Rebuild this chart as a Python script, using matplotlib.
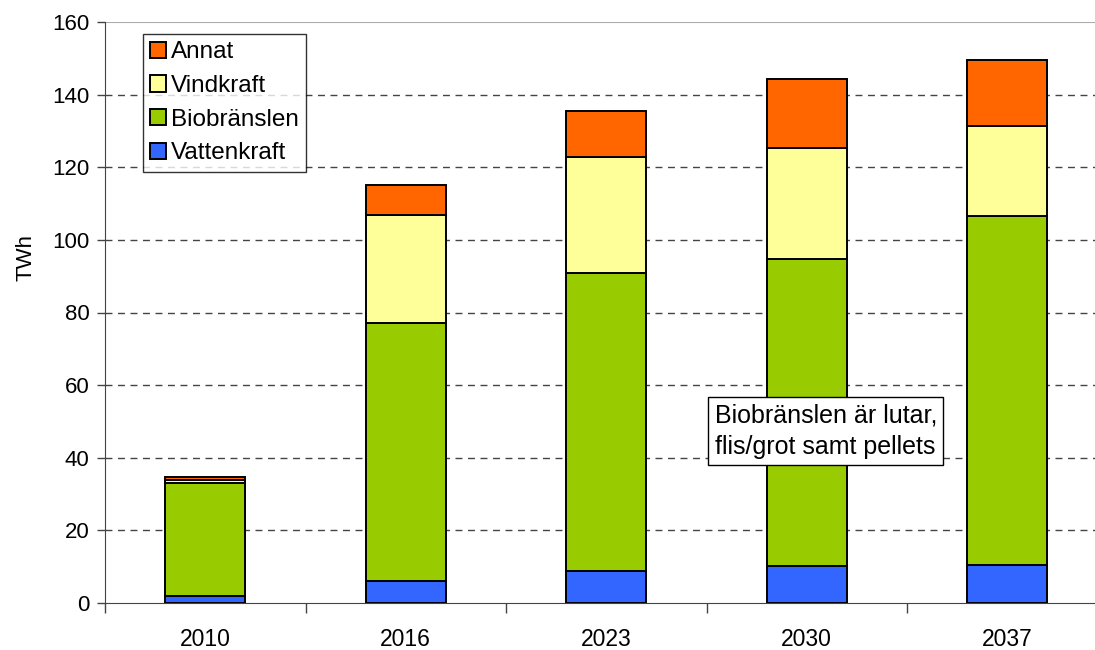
import matplotlib.pyplot as plt
import numpy as np

plt.rcParams["font.family"] = ["Liberation Sans", "DejaVu Sans"]

# Elproduktion per år (TWh)
years = ["2010", "2016", "2023", "2030", "2037"]
vattenkraft = [1.8, 6.0, 8.8, 10.3, 10.6]
biobranslen = [31.2, 71.1, 82.1, 84.4, 96.0]
vindkraft = [0.9, 29.8, 31.9, 30.6, 24.8]
annat = [0.7, 8.2, 12.7, 19.0, 18.2]

series = [
    ("Vattenkraft", vattenkraft, "#3366FF"),
    ("Biobränslen", biobranslen, "#99CC00"),
    ("Vindkraft", vindkraft, "#FFFF99"),
    ("Annat", annat, "#FF6600"),
]

fig = plt.figure(figsize=(10.95, 6.5), dpi=100)
ax = fig.add_axes([105 / 1095, 47 / 650, 1002.5 / 1095, 581 / 650])

x = np.arange(len(years))
bottom = np.zeros(len(years))
for name, vals, color in series:
    ax.bar(x, vals, width=0.4, bottom=bottom, color=color, edgecolor="black",
           linewidth=1.4, label=name, zorder=3)
    bottom += np.array(vals)

ax.set_xlim(-0.5, len(years) - 0.5)
ax.set_ylim(0, 160)
ax.set_yticks(np.arange(0, 161, 20))
ax.set_xticks(x)
ax.set_xticklabels(years)
ax.set_xticks(np.arange(-0.5, len(years), 1), minor=True)
ax.tick_params(axis="x", which="major", length=0, pad=18, labelsize=16.5)
ax.tick_params(axis="x", which="minor", length=7, width=1, color="#444444")
ax.tick_params(axis="y", length=6, width=1, color="#444444", labelsize=16, pad=5)

# streckade stödlinjer
for yv in range(20, 160, 20):
    ax.axhline(yv, color="#444444", linestyle=(0, (5, 4)), linewidth=1, zorder=1)
ax.axhline(160, color="#aaaaaa", linewidth=1.5, zorder=1)

for side in ["top", "right"]:
    ax.spines[side].set_visible(False)
ax.spines["left"].set_color("#444444")
ax.spines["bottom"].set_color("#444444")

ax.set_ylabel("TWh", fontsize=16)
ax.yaxis.set_label_coords(-0.068, 0.595)

handles, labels = ax.get_legend_handles_labels()
leg = ax.legend(handles[::-1], labels[::-1], loc="upper left",
                bbox_to_anchor=(0.038, 0.979), fontsize=17.5, frameon=True,
                fancybox=False, edgecolor="black", handlelength=0.66,
                handleheight=0.66, handletextpad=0.2, labelspacing=0.48,
                borderpad=0.3, borderaxespad=0)
leg.get_frame().set_linewidth(1)

ax.text(0.608, 0.343, "Biobränslen är lutar,\nflis/grot samt pellets",
        transform=ax.transAxes, fontsize=18, ha="left", va="top",
        linespacing=1.38, zorder=5,
        bbox=dict(boxstyle="square,pad=0.25", facecolor="white",
                  edgecolor="black", linewidth=1))

fig.savefig("out.png", dpi=100)
